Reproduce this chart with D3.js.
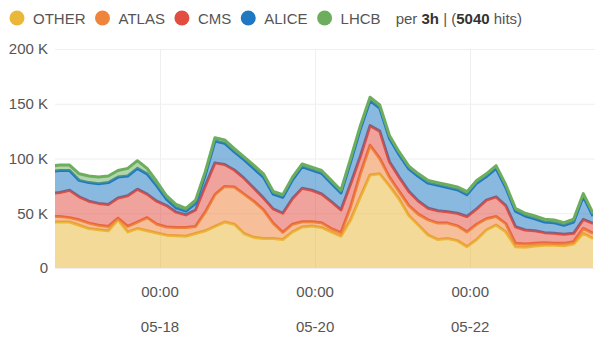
<!DOCTYPE html>
<html><head><meta charset="utf-8">
<script src="https://cdn.jsdelivr.net/npm/d3@7/dist/d3.min.js"></script>
<style>
body{margin:0;background:#fff;}
svg{display:block;font-family:"Liberation Sans",Arial,Helvetica,sans-serif;}
</style>
</head><body>
<svg id="chart" width="616" height="340"></svg>
<script>
// ---- data (values in thousands of hits, 3h buckets) ----
const seriesNames  = ["OTHER", "ATLAS", "CMS", "ALICE", "LHCB"];
const seriesColors = ["#EAB839", "#EF843C", "#E24D42", "#1F78C1", "#6DAE5E"];
const startTime = "2014-05-16T14:00:00Z";
const stepHours = 3;
const other = [42,42,42,39,36,35,34,44,33,36,34,32,30,29.5,29,31.5,34,38,42,40,31.5,28,27,27,26,33,37.5,38.3,37,33,29,44,65,85,86,75,63,48,39,30,26,27,25,19.5,26,34.7,39.3,33,19.5,19,20,20.7,20.7,20.4,22,31.7,27];
const atlas = [5,5,4,5,5,4,4,1.5,5,6,12,8,7.5,7.5,8,6.5,17,29,32.5,34,36,33,26,14,6.5,7,4.8,4,4.4,3,3.3,12,21,27,14,8,7,9,10,14,15,14,13.5,13.5,14,10.3,7.7,7.5,3,3,2.5,2.3,1.8,2.1,2,4.5,4.7];
const cms   = [21,22,25,21,20,20,20,18.5,28,30,21.5,21,19.5,14,11.5,15,24,29,20,15.5,14.5,12,11,13,17.5,23.5,30.5,28.7,26.2,24.6,20.7,21,16,18,25,14,13,13,12,10.5,11.3,10.4,11.5,14,14,17,18,16.5,15.2,12.7,11.5,9.3,9.2,8.3,7.7,8.3,9.1];
const alice = [20,20,18,15,17,18,20,19,18,19,18.5,14,6,4,3.5,6,10,20,19.5,16.5,17,18,19,13.5,14.5,17,19.7,18.5,18.9,16.9,15.5,20,25,23,21,21.5,20.5,20.5,22.5,23,23.2,22.1,21.5,20,23.5,21.5,26,16.5,14.3,12.8,11,9.7,9.6,8.2,10.3,21,6.7];
const lhcb  = [5,5,5,6,6,6,6,6,7,7,5,4,3,3,2.5,3,3,3,3,3,2.5,3,3,2.5,2.5,2.5,2.5,2.5,2.5,2.5,2.5,3,3,3,3,2.5,2.5,2.5,2.5,2.5,2.5,2.5,2.5,2.7,2.5,2.5,2.5,2.5,2.5,2.5,2.5,2.5,2.5,2.4,2.5,2.5,2.5];
const xDomain = ["2014-05-16T15:30:00Z", "2014-05-23T14:00:00Z"];
const xTickDates = ["2014-05-18T00:00:00Z", "2014-05-20T00:00:00Z", "2014-05-22T00:00:00Z"];
const xTickTime = ["00:00", "00:00", "00:00"];
const xTickDay  = ["05-18", "05-20", "05-22"];
const yTicks = [0, 50, 100, 150, 200];
const yTickLabels = ["0", "50 K", "100 K", "150 K", "200 K"];
const intervalLabel = "3h";
const hitsLabel = "5040";

// ---- build table ----
const seriesValues = [other, atlas, cms, alice, lhcb];
const t0 = new Date(startTime).getTime();
const rows = other.map((_, i) => {
  const r = { t: new Date(t0 + i * stepHours * 3600e3) };
  seriesNames.forEach((n, j) => r[n] = seriesValues[j][i]);
  return r;
});

const svg = d3.select("#chart");
const M = { left: 55, right: 23, top: 49, bottom: 72 };
const W = 616, H = 340;

const x = d3.scaleUtc().domain(xDomain.map(d => new Date(d))).range([M.left, W - M.right]);
const y = d3.scaleLinear().domain([0, 200]).range([H - M.bottom, M.top]);

svg.append("defs").append("clipPath").attr("id", "plotclip")
  .append("rect").attr("x", M.left).attr("y", M.top - 5)
  .attr("width", W - M.right - M.left).attr("height", H - M.bottom - M.top + 5);

// grid
const grid = svg.append("g");
grid.selectAll("line.h").data(yTicks).join("line")
  .attr("x1", M.left).attr("x2", W - M.right + 2)
  .attr("y1", d => y(d) + 0.5).attr("y2", d => y(d) + 0.5)
  .attr("stroke", "#efefef").attr("stroke-width", 1);
grid.selectAll("line.v").data(xTickDates).join("line")
  .attr("x1", d => Math.round(x(new Date(d))) + 0.5).attr("x2", d => Math.round(x(new Date(d))) + 0.5)
  .attr("y1", M.top).attr("y2", H - M.bottom)
  .attr("stroke", "#efefef").attr("stroke-width", 1);

// stacked areas
const stack = d3.stack().keys(seriesNames);
const layers = stack(rows);
const area = d3.area().x(d => x(d.data.t)).y0(d => y(d[0])).y1(d => y(d[1]));
const line = d3.line().x(d => x(d.data.t)).y(d => y(d[1]));
const plot = svg.append("g").attr("clip-path", "url(#plotclip)");
layers.forEach((L, i) => {
  plot.append("path").datum(L).attr("d", area)
    .attr("fill", seriesColors[i]).attr("fill-opacity", 0.52).attr("stroke", "none");
  plot.append("path").datum(L).attr("d", line)
    .attr("fill", "none").attr("stroke", seriesColors[i]).attr("stroke-width", 3)
    .attr("stroke-linejoin", "round");
});

// y axis labels
svg.append("g").selectAll("text").data(yTicks).join("text")
  .attr("x", 48).attr("y", d => y(d)).attr("dy", "0.35em")
  .attr("text-anchor", "end").attr("font-size", 15).attr("fill", "#555")
  .text((d, i) => yTickLabels[i]);

// x axis labels
const xl = svg.append("g");
xl.selectAll("text.t").data(xTickDates).join("text")
  .attr("x", d => x(new Date(d))).attr("y", 297)
  .attr("text-anchor", "middle").attr("font-size", 15).attr("fill", "#555")
  .text((d, i) => xTickTime[i]);
xl.selectAll("text.d").data(xTickDates).join("text")
  .attr("x", d => x(new Date(d))).attr("y", 332)
  .attr("text-anchor", "middle").attr("font-size", 15).attr("fill", "#555")
  .text((d, i) => xTickDay[i]);

// legend
const lg = svg.append("g");
let cx = 17;
seriesNames.forEach((n, i) => {
  lg.append("circle").attr("cx", cx).attr("cy", 18).attr("r", 7.5).attr("fill", seriesColors[i]);
  const t = lg.append("text").attr("x", cx + 16).attr("y", 23.5)
    .attr("font-size", 15).attr("fill", "#555").text(n);
  const w = t.node().getComputedTextLength();
  cx = cx + 16 + w + 17;
});
const info = lg.append("text").attr("x", cx - 2).attr("y", 23.5).attr("font-size", 15).attr("fill", "#555");
info.append("tspan").text("per ");
info.append("tspan").attr("font-weight", "bold").attr("fill", "#333").text(intervalLabel);
info.append("tspan").text(" | (");
info.append("tspan").attr("font-weight", "bold").attr("fill", "#333").text(hitsLabel);
info.append("tspan").text(" hits)");
</script>
</body></html>
